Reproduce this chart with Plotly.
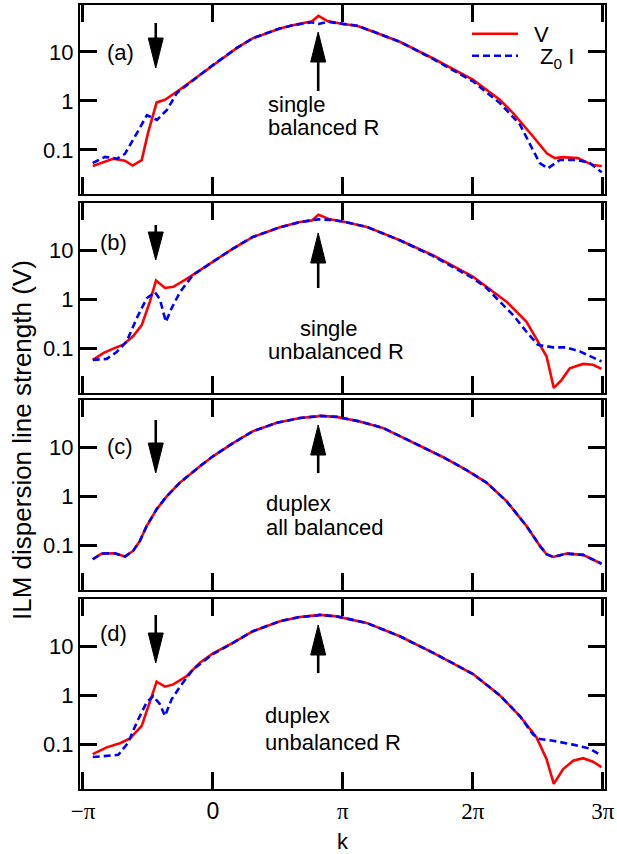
import numpy as np
import plotly.graph_objects as go

PI = np.pi

# ---------------- data (k in units of pi, line strength in V) ----------------
# panel (a): single, balanced R
a_V_k = [-0.925, -0.769, -0.677, -0.618, -0.548, -0.500, -0.433, -0.369, -0.254, -0.100, 0.0, 0.185, 0.308,
         0.515, 0.615, 0.762, 0.812, 0.885, 1.0, 1.108, 1.231, 1.438, 1.692, 2.0, 2.208, 2.308, 2.462, 2.569,
         2.631, 2.692, 2.808, 2.923, 2.992]
a_V = [0.047, 0.066, 0.060, 0.048, 0.062, 0.22, 0.93, 1.05, 1.7, 3.4, 5.4, 12, 19, 30, 35, 42, 54, 42, 37, 34,
       26, 16, 7.4, 2.7, 1.05, 0.57, 0.19, 0.085, 0.068, 0.071, 0.068, 0.049, 0.047]
a_I_k = [-0.925, -0.831, -0.738, -0.677, -0.585, -0.508, -0.431, -0.354, -0.277, -0.100, 0.0, 0.185, 0.308,
         0.515, 0.615, 0.762, 0.812, 0.885, 1.0, 1.108, 1.231, 1.438, 1.692, 2.0, 2.208, 2.362, 2.462, 2.515,
         2.577, 2.669, 2.8, 2.9, 2.992]
a_I = [0.054, 0.072, 0.066, 0.083, 0.22, 0.51, 0.41, 0.65, 1.45, 3.4, 5.4, 12, 19, 30, 35, 40, 37, 41, 37, 34,
       26, 16, 7.2, 2.5, 0.9, 0.33, 0.10, 0.054, 0.042, 0.062, 0.062, 0.054, 0.035]

# panel (b): single, unbalanced R
b_V_k = [-0.925, -0.844, -0.767, -0.690, -0.613, -0.548, -0.485, -0.438, -0.369, -0.305, -0.202, -0.100, 0.0,
         0.154, 0.308, 0.515, 0.669, 0.762, 0.812, 0.9, 1.0, 1.185, 1.438, 1.692, 2.0, 2.105, 2.259, 2.413,
         2.515, 2.567, 2.623, 2.682, 2.746, 2.848, 2.925, 2.99]
b_V = [0.059, 0.081, 0.10, 0.12, 0.18, 0.30, 0.9, 2.4, 1.7, 1.8, 2.6, 3.9, 5.8, 10.7, 18.5, 29, 37, 40, 52, 42,
       38, 29.5, 15.8, 7.9, 2.9, 1.8, 0.9, 0.35, 0.12, 0.07, 0.016, 0.023, 0.04, 0.049, 0.047, 0.039]
b_I_k = [-0.925, -0.818, -0.741, -0.664, -0.587, -0.510, -0.446, -0.408, -0.362, -0.318, -0.254, -0.154, 0.0,
         0.154, 0.308, 0.515, 0.669, 0.762, 0.812, 0.9, 1.0, 1.185, 1.438, 1.692, 2.0, 2.105, 2.310, 2.413, 2.5,
         2.618, 2.721, 2.823, 2.925, 2.99]
b_I = [0.059, 0.062, 0.085, 0.14, 0.41, 1.05, 1.4, 1.0, 0.35, 0.66, 1.4, 3.1, 5.8, 10.7, 18.5, 29, 37, 40, 42,
       41, 38, 29.5, 15.8, 7.6, 2.7, 1.7, 0.48, 0.22, 0.12, 0.106, 0.106, 0.088, 0.066, 0.055]

# panel (c): duplex, all balanced
c_V_k = [-0.925, -0.856, -0.754, -0.677, -0.613, -0.562, -0.510, -0.433, -0.356, -0.254, -0.100, 0.0, 0.154,
         0.308, 0.492, 0.669, 0.800, 0.823, 0.952, 1.131, 1.308, 1.567, 1.769, 1.952, 2.105, 2.259, 2.413, 2.515,
         2.567, 2.618, 2.721, 2.848, 2.925, 2.99]
c_V = [0.053, 0.069, 0.070, 0.060, 0.079, 0.125, 0.25, 0.55, 1.0, 1.9, 4.1, 6.5, 12, 21, 31, 39, 42, 43, 41, 33,
       24.5, 11.5, 6.3, 3.4, 1.9, 0.8, 0.25, 0.10, 0.067, 0.059, 0.069, 0.065, 0.053, 0.043]
c_I_k = [-0.925, -0.856, -0.754, -0.677, -0.613, -0.562, -0.510, -0.433, -0.356, -0.254, -0.100, 0.0, 0.154,
         0.308, 0.492, 0.669, 0.800, 0.823, 0.952, 1.131, 1.308, 1.567, 1.769, 1.952, 2.105, 2.259, 2.413, 2.515,
         2.567, 2.618, 2.721, 2.848, 2.925, 2.99]
c_I = [0.053, 0.069, 0.070, 0.060, 0.079, 0.125, 0.25, 0.55, 1.0, 1.9, 4.1, 6.5, 12, 21, 31, 39, 42, 43, 41, 33,
       24.5, 11.5, 6.3, 3.4, 1.9, 0.8, 0.25, 0.10, 0.067, 0.059, 0.069, 0.065, 0.053, 0.043]

# panel (d): duplex, unbalanced R
d_V_k = [-0.925, -0.818, -0.715, -0.638, -0.548, -0.490, -0.433, -0.369, -0.305, -0.202, -0.100, 0.0, 0.154,
         0.308, 0.515, 0.669, 0.800, 0.823, 0.952, 1.182, 1.438, 1.695, 2.002, 2.208, 2.362, 2.490, 2.567, 2.623,
         2.695, 2.772, 2.848, 2.925, 2.99]
d_V = [0.064, 0.088, 0.107, 0.134, 0.24, 0.71, 1.9, 1.5, 1.67, 2.45, 4.6, 7.1, 11.6, 20, 32, 39, 41.5, 43, 40,
       29.5, 15.8, 7.3, 2.7, 1.0, 0.38, 0.14, 0.051, 0.016, 0.032, 0.047, 0.053, 0.045, 0.035]
d_I_k = [-0.925, -0.818, -0.728, -0.652, -0.587, -0.510, -0.459, -0.408, -0.369, -0.318, -0.254, -0.152, 0.0,
         0.154, 0.308, 0.515, 0.669, 0.800, 0.823, 0.952, 1.182, 1.438, 1.695, 2.002, 2.208, 2.362, 2.464, 2.515,
         2.618, 2.772, 2.9, 2.99]
d_I = [0.056, 0.059, 0.062, 0.11, 0.28, 0.72, 0.97, 0.66, 0.38, 0.83, 1.5, 3.4, 6.9, 11.6, 20, 32, 39, 41.5, 43,
       40, 29.5, 15.8, 7.3, 2.7, 1.0, 0.38, 0.16, 0.13, 0.12, 0.10, 0.083, 0.06]

panel_labels = ["(a)", "(b)", "(c)", "(d)"]
panel_notes = [["single", "balanced R"], ["single", "unbalanced R"],
               ["duplex", "all balanced"], ["duplex", "unbalanced R"]]
x_tick_vals = [-1, 0, 1, 2, 3]
x_tick_text = ["\u2212\u03c0", '<span style="font-family:Liberation Sans">0</span>',
               "\u03c0", "2\u03c0", "3\u03c0"]
y_tick_vals = [0.1, 1, 10]
y_tick_text = ["0.1", "1", "10"]
arrow_down_k = -0.44
arrow_up_k = 0.81

panels = [(a_V_k, a_V, a_I_k, a_I), (b_V_k, b_V, b_I_k, b_I),
          (c_V_k, c_V, c_I_k, c_I), (d_V_k, d_V, d_I_k, d_I)]

# ---------------- layout geometry ----------------
W, H = 617, 854
ML, MR, MT, MB = 80, 12, 5, 65
PW, PH = W - ML - MR, H - MT - MB
def px_x(p):  # pixel -> paper x
    return (p - ML) / PW
def px_y(p):  # pixel -> paper y
    return (H - MB - p) / PH

panel_px = [(5, 194), (203, 393), (400, 590), (599, 789)]
domains = [[px_y(b), px_y(t)] for t, b in panel_px]

SANS = "Liberation Sans, Arial, Helvetica, sans-serif"
SERIF = "Liberation Serif, Times New Roman, serif"

fig = go.Figure()
for i, (vk, vv, ik, iv) in enumerate(panels):
    xa = "x" if i == 0 else f"x{i+1}"
    ya = "y" if i == 0 else f"y{i+1}"
    fig.add_trace(go.Scatter(x=np.array(vk) * PI, y=vv, mode="lines", name="\u2002V",
                             line=dict(color="#ff0000", width=2.6), xaxis=xa, yaxis=ya,
                             showlegend=(i == 0), legend="legend"))
    fig.add_trace(go.Scatter(x=np.array(ik) * PI, y=iv, mode="lines",
                             name="\u2002\u00a0Z<sub>0</sub> I",
                             line=dict(color="#0000ff", width=2.6, dash="7px,4px"), xaxis=xa, yaxis=ya,
                             showlegend=(i == 0), legend="legend2"))

xrange = [-1.023 * PI, 3.017 * PI]
leg_common = dict(xanchor="left", yanchor="top", bgcolor="rgba(0,0,0,0)",
                  font=dict(family=SANS, size=22), itemwidth=46)
layout = dict(
    width=W, height=H, margin=dict(l=ML, r=MR, t=MT, b=MB, autoexpand=False),
    paper_bgcolor="white", plot_bgcolor="white",
    font=dict(family=SANS, size=22, color="black"),
    legend=dict(x=px_x(467), y=px_y(13), **leg_common),
    legend2=dict(x=px_x(467), y=px_y(35), **leg_common),
)
for i in range(4):
    xk = "xaxis" if i == 0 else f"xaxis{i+1}"
    yk = "yaxis" if i == 0 else f"yaxis{i+1}"
    ya = "y" if i == 0 else f"y{i+1}"
    xa = "x" if i == 0 else f"x{i+1}"
    layout[xk] = dict(range=xrange, anchor=ya, domain=[0, 1], automargin=False,
                      tickmode="array", tickvals=[v * PI for v in x_tick_vals], ticktext=x_tick_text,
                      showticklabels=(i == 3), ticks="inside", ticklen=17, tickwidth=2.5,
                      tickcolor="#000000", showline=True, linewidth=2, linecolor="#000000",
                      mirror="ticks", showgrid=False, zeroline=False,
                      tickfont=dict(family=SERIF, size=23))
    layout[yk] = dict(type="log", range=[-1.9, 1.955], anchor=xa, domain=domains[i], automargin=False,
                      tickmode="array", tickvals=y_tick_vals, ticktext=y_tick_text, ticks="inside",
                      ticklen=17, tickwidth=2.5, tickcolor="#000000", showline=True, linewidth=2,
                      linecolor="#000000", mirror="ticks", showgrid=False, zeroline=False,
                      tickfont=dict(family=SANS, size=22))
fig.update_layout(**layout)

annotations = []
# axis titles
annotations.append(dict(text="ILM dispersion line strength (V)", xref="paper", yref="paper",
                        x=px_x(22), y=px_y(440), textangle=-90, showarrow=False,
                        font=dict(family=SANS, size=26), xanchor="center", yanchor="middle"))
annotations.append(dict(text="k", xref="paper", yref="paper", x=px_x(343), y=px_y(841),
                        showarrow=False, font=dict(family=SANS, size=22),
                        xanchor="center", yanchor="middle"))
label_pos = [(120, 52), (113, 242), (120, 447), (113, 633)]
note_pos = [[(268, 105), (268, 128)], [(300, 328), (268, 352)],
            [(266, 503), (266, 527)], [(265, 715), (265, 742)]]
for i in range(4):
    lx, ly = label_pos[i]
    annotations.append(dict(text=panel_labels[i], xref="paper", yref="paper", x=px_x(lx), y=px_y(ly),
                            xanchor="center", yanchor="middle",
                            showarrow=False, font=dict(family=SANS, size=22)))
    for txt, (nx, ny) in zip(panel_notes[i], note_pos[i]):
        annotations.append(dict(text=txt, xref="paper", yref="paper", x=px_x(nx - 2), y=px_y(ny),
                                xanchor="left", yanchor="middle", showarrow=False,
                                font=dict(family=SANS, size=22)))
fig.update_layout(annotations=annotations)

# arrows: (tail, head base, tip) in pixel y
down_arrows = [(23, 38, 68), (225, 232, 260), (420, 443, 473), (615, 633, 663)]
up_arrows = [(91, 62, 32), (288, 263, 233), (473, 455, 425), (673, 655, 625)]
half_w = 7.5 / 130.0 * PI
shapes = []
for k0, specs in ((arrow_down_k, down_arrows), (arrow_up_k, up_arrows)):
    xk = k0 * PI
    for tail, base, tip in specs:
        shapes.append(dict(type="line", xref="x", yref="paper", x0=xk, x1=xk,
                           y0=px_y(tail), y1=px_y(base), line=dict(color="black", width=2.6)))
        path = (f"M{xk - half_w},{px_y(base)} L{xk + half_w},{px_y(base)} "
                f"L{xk},{px_y(tip)} Z")
        shapes.append(dict(type="path", xref="x", yref="paper", path=path,
                           fillcolor="black", line=dict(color="black", width=1)))
fig.update_layout(shapes=shapes)

fig.write_html("out.html", config={"displayModeBar": False},
               post_script="document.body.style.margin='0';document.body.style.padding='0';")
